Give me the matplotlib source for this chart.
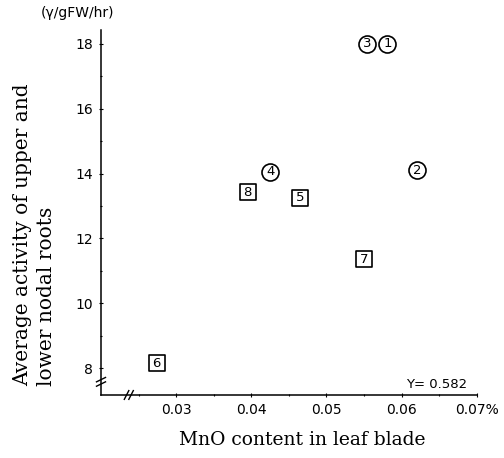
import matplotlib
matplotlib.use("Agg")
import matplotlib.pyplot as plt

# data
circle_ids = ["3", "1", "2", "4"]
circle_x = [0.0554, 0.0581, 0.0621, 0.0425]
circle_y = [18.0, 18.0, 14.1, 14.05]

square_ids = ["8", "5", "7", "6"]
square_x = [0.0395, 0.0465, 0.0550, 0.0274]
square_y = [13.43, 13.25, 11.36, 8.15]

x_ticks = [0.03, 0.04, 0.05, 0.06, 0.07]
x_tick_labels = ["0.03", "0.04", "0.05", "0.06", "0.07%"]
y_ticks = [8, 10, 12, 14, 16, 18]

fig = plt.figure(figsize=(5.04, 4.58), dpi=100)
ax = fig.add_axes([0.2004, 0.1376, 0.7456, 0.797])
ax.set_xlim(0.02, 0.07)
ax.set_ylim(7.17, 18.43)

for s in ["top", "right"]:
    ax.spines[s].set_visible(False)
for s in ["left", "bottom"]:
    ax.spines[s].set_linewidth(1.1)

ax.set_xticks(x_ticks)
ax.set_xticklabels(x_tick_labels)
ax.set_xticks([0.025, 0.035, 0.045, 0.055, 0.065], minor=True)
ax.set_yticks(y_ticks)
ax.set_yticks([9, 11, 13, 15, 17], minor=True)
ax.tick_params(which="both", direction="inout", length=3, width=0.8,
               labelsize=10, pad=4)
ax.tick_params(which="minor", length=2)

# circled points
ax.scatter(circle_x, circle_y, s=150, marker="o", facecolor="white",
           edgecolor="black", linewidth=1.2, zorder=3)
for i, x, y in zip(circle_ids, circle_x, circle_y):
    ax.text(x, y, i, ha="center", va="center", fontsize=9.5, zorder=4)

# boxed points
ax.scatter(square_x, square_y, s=120, marker="s", facecolor="white",
           edgecolor="black", linewidth=1.2, zorder=3)
for i, x, y in zip(square_ids, square_x, square_y):
    ax.text(x, y, i, ha="center", va="center", fontsize=9.5, zorder=4)

# axis break marks
for dx in [0.068, 0.080]:
    ax.plot([dx - 0.006, dx + 0.006], [-0.012, 0.012], transform=ax.transAxes,
            color="black", lw=1, clip_on=False)
for dy in [0.030, 0.042]:
    ax.plot([-0.012, 0.012], [dy - 0.006, dy + 0.006], transform=ax.transAxes,
            color="black", lw=1, clip_on=False)

ax.text(0.975, 0.012, "Y= 0.582", transform=ax.transAxes, ha="right",
        va="bottom", fontsize=9.5)
fig.text(0.08, 0.972, "(γ/gFW/hr)", ha="left", va="center", fontsize=10)

ax.set_xlabel("MnO content in leaf blade", family="DejaVu Serif",
              fontsize=13.5)
ax.xaxis.set_label_coords(0.535, -0.1)
fig.text(0.068, 0.158, "Average activity of upper and\nlower nodal roots",
         family="DejaVu Serif", fontsize=14.5, rotation=90, ha="center",
         va="bottom", multialignment="left", linespacing=1.3)

fig.savefig("out.png", dpi=100)
